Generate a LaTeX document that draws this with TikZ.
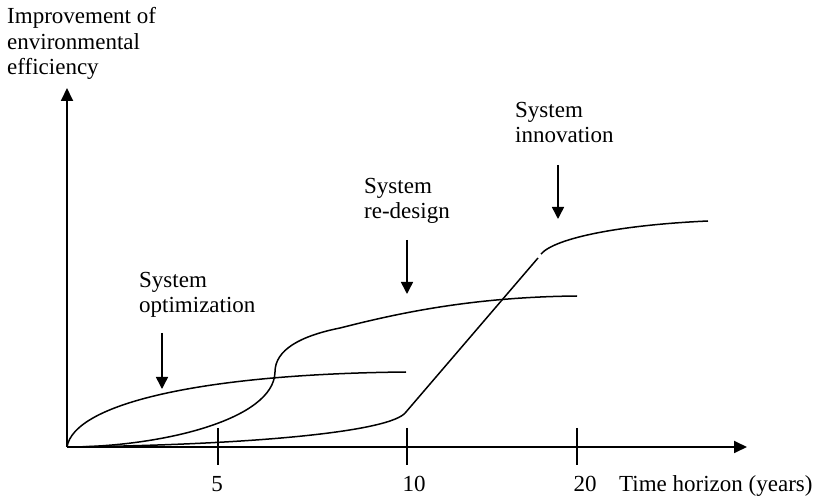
\documentclass[tikz,border=0pt]{standalone}
\usepackage{fontspec}
\setmainfont{Liberation Serif}
\usetikzlibrary{arrows.meta}
\begin{document}
\begin{tikzpicture}[x=1pt,y=-1pt,
  % multi-line labels are placed by the baseline of their last line
  lbl/.style={font=\fontsize{23}{25.5}\selectfont, inner sep=0pt, align=left, anchor=base west},
  num/.style={font=\fontsize{23}{25.5}\selectfont, inner sep=0pt, anchor=base},
  axis/.style={line width=1.8pt, -{Triangle[length=13pt,width=12pt]}},
  curve/.style={line width=1.5pt},
  pointer/.style={line width=1.5pt, -{Triangle[length=12pt,width=12pt]}},
  tickmark/.style={line width=1.8pt}]
\useasboundingbox (0,0) rectangle (825,502);

% axes
\coordinate (O) at (67,447);
\coordinate (ytip) at (67,88);
\coordinate (xtip) at (747,447);
\draw[axis] (O) -- (ytip);
\draw[axis] (O) -- (xtip);

% ticks on the time axis
\coordinate (t5a) at (218,428);  \coordinate (t5b) at (218,465);
\coordinate (t10a) at (407,428); \coordinate (t10b) at (407,465);
\coordinate (t20a) at (577,428); \coordinate (t20b) at (577,465);
\draw[tickmark] (t5a) -- (t5b);
\draw[tickmark] (t10a) -- (t10b);
\draw[tickmark] (t20a) -- (t20b);

% axis labels
\node[lbl] (ylabel) at (7,75) {Improvement of\\environmental\\efficiency};
\node[num] (n5) at (217,492) {5};
\node[num] (n10) at (414,492) {10};
\node[num] (n20) at (585,492) {20};
\node[lbl] (xlabel) at (619,491) {Time horizon (years)};

% system optimization curve
\coordinate (optend) at (406,372);
\draw[curve] (O) .. controls (74,404) and (200,374) .. (optend);

% system re-design curve
\coordinate (redmid) at (275,372);
\coordinate (redend) at (577,296);
\draw[curve] (O) .. controls (160,447) and (274,420) .. (redmid)
  .. controls (275,350) and (300,336) .. (340,328)
  .. controls (395,314) and (470,297) .. (redend);

% system innovation curve: slow start, steep rise, saturation
\coordinate (innkink) at (406,412);
\coordinate (innjump) at (538,258);
\coordinate (inntop) at (541,254);
\coordinate (innend) at (708,221);
\draw[curve] (O) .. controls (250,445) and (392,432) .. (innkink) -- (innjump);
\draw[curve] (inntop) .. controls (555,238) and (620,225) .. (innend);

% labels with pointers
\node[lbl] (optlbl) at (139,313) {System\\optimization};
\node[lbl] (redlbl) at (364,219) {System\\re-design};
\node[lbl] (innlbl) at (515,143) {System\\innovation};
\coordinate (opta) at (162,333); \coordinate (optb) at (162,389);
\coordinate (reda) at (407,240); \coordinate (redb) at (407,294);
\coordinate (inna) at (558,165); \coordinate (innb) at (558,219);
\draw[pointer] (opta) -- (optb);
\draw[pointer] (reda) -- (redb);
\draw[pointer] (inna) -- (innb);
\end{tikzpicture}
\end{document}
